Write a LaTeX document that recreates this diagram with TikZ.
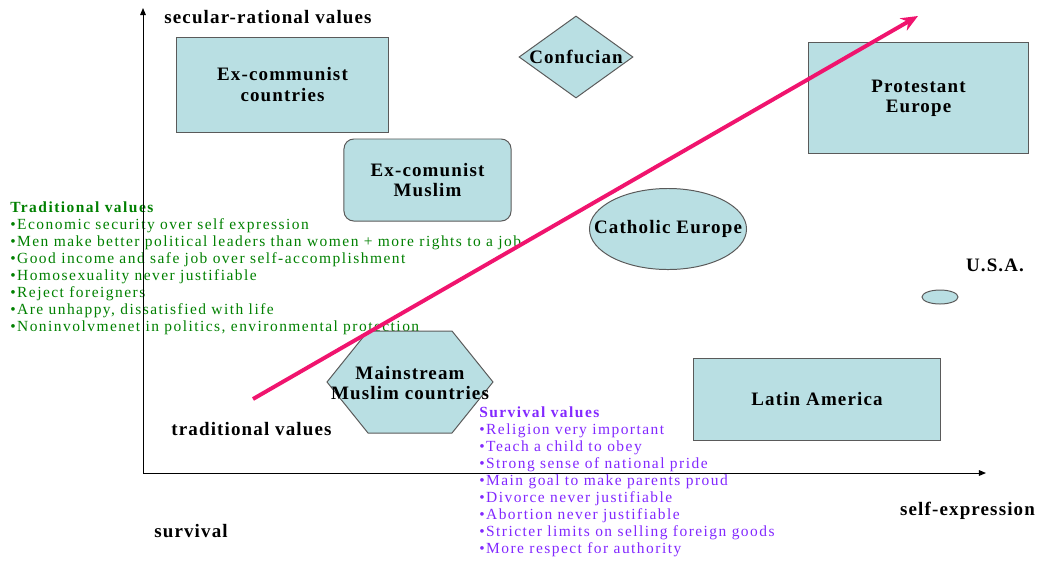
\documentclass[tikz,border=0pt]{standalone}
\usepackage{fontspec}
\setmainfont{Liberation Serif}[LetterSpace=6]
\newfontfamily\listfont{Liberation Serif}[LetterSpace=9.5]
\usetikzlibrary{shapes.geometric,arrows.meta}
\definecolor{boxfill}{RGB}{185,223,227}
\definecolor{boxline}{RGB}{90,90,90}
\definecolor{tradgreen}{RGB}{0,128,0}
\definecolor{survpurple}{RGB}{130,40,255}
\definecolor{trendpink}{RGB}{240,20,110}
\begin{document}
\begin{tikzpicture}[x=0.025cm,y=-0.025cm,
    region/.style={draw=boxline,fill=boxfill,line width=0.7pt,inner sep=0pt,align=center,
      font=\bfseries\fontsize{13.5}{14.5}\selectfont},
    axislabel/.style={inner sep=0pt,align=center,font=\bfseries\fontsize{13.5}{14.5}\selectfont},
    valuelist/.style={inner sep=0pt,align=left,anchor=north west,font=\listfont\fontsize{11}{12.15}\selectfont},
    axis/.style={line width=0.7pt,-{Triangle[length=5pt,width=4pt]}}]
  \useasboundingbox (0,0) rectangle (1039,561);
  \node[valuelist,text=tradgreen] (tradlist) at (10,201) {\textbf{Traditional values}\\
    •Economic security over self expression\\
    •Men make better political leaders than women + more rights to a job\\
    •Good income and safe job over self-accomplishment\\
    •Homosexuality never justifiable\\
    •Reject foreigners\\
    •Are unhappy, dissatisfied with life\\
    •Noninvolvmenet in politics, environmental protection};
  \node[valuelist,text=survpurple] (survlist) at (479,406) {\textbf{Survival values}\\
    •Religion very important\\
    •Teach a child to obey\\
    •Strong sense of national pride\\
    •Main goal to make parents proud\\
    •Divorce never justifiable\\
    •Abortion never justifiable\\
    •Stricter limits on selling foreign goods\\
    •More respect for authority};
  \coordinate (origin) at (143,473);
  \coordinate (ytip) at (143,8);
  \coordinate (xtip) at (986,473);
  \draw[axis] (origin) -- (ytip);
  \draw[axis] (origin) -- (xtip);
  \node[region,minimum width=5.275cm,minimum height=2.375cm] (excom) at (282.5,84.5) {Ex-communist\\countries};
  \node[region,diamond,aspect=1.4,minimum width=2.85cm,minimum height=2.05cm] (confucian) at (576,57) {Confucian};
  \node[region,rounded corners=7pt,minimum width=4.175cm,minimum height=2.05cm] (excomuslim) at (427.5,180) {Ex-comunist\\Muslim};
  \node[region,ellipse,minimum width=3.925cm,minimum height=2.025cm] (catholic) at (668,229) {\makebox[0pt]{Catholic Europe}};
  \node[region,minimum width=5.475cm,minimum height=2.75cm] (protestant) at (918.5,98) {Protestant\\Europe};
  \node[region,minimum width=6.15cm,minimum height=2.05cm] (latam) at (817,399) {Latin America};
  \node[region,ellipse,minimum width=0.9cm,minimum height=0.35cm] (usa) at (940,297) {};
  \draw[region] (327,382) -- (368,331) -- (452,331) -- (493,382) -- (452,433) -- (368,433) -- cycle;
  \node[axislabel] (mainstream) at (410,383) {Mainstream\\Muslim countries};
  \node[axislabel] (usalabel) at (995,265) {U.S.A.};
  \node[axislabel] (secular) at (268,17) {secular-rational values};
  \node[axislabel] (traditional) at (251.5,429) {traditional values};
  \node[axislabel] (survival) at (191,531) {survival};
  \node[axislabel] (selfexpr) at (967.5,511) {self-expression};
  \coordinate (trendstart) at (253,399);
  \coordinate (trendend) at (918,16);
  \draw[trendpink,line width=2.8pt,-{Stealth[length=12pt,width=10pt]}] (trendstart) -- (trendend);
\end{tikzpicture}
\end{document}
